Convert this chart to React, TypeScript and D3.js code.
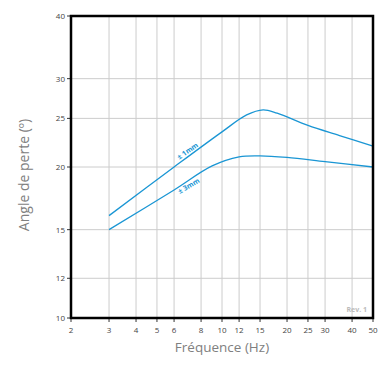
import React from "react";
import * as d3 from "d3";

const xTicks = [2, 3, 4, 5, 6, 8, 10, 12, 15, 20, 25, 30, 40, 50];
const yTicks = [10, 12, 15, 20, 25, 30, 40];
const freq1 = [3, 6, 10, 13, 15.5, 18, 25, 35, 50];
const loss1mm = [16, 20, 23.5, 25.4, 26.0, 25.6, 24.2, 23.1, 22.0];
const freq3 = [3, 6, 9, 12, 15, 20, 30, 50];
const loss3mm = [15, 18.0, 20.1, 20.95, 21.05, 20.9, 20.5, 20.0];

const W = 386, H = 371;
const L = 71, R = 373, T = 16, B = 318;

export default function App() {
  const x = d3.scaleLog().domain([2, 50]).range([L, R]);
  const y = d3.scaleLog().domain([10, 40]).range([B, T]);
  const line = d3.line<[number, number]>()
    .x(d => x(d[0])).y(d => y(d[1])).curve(d3.curveCatmullRom.alpha(0.5));
  const s1 = freq1.map((f, i) => [f, loss1mm[i]] as [number, number]);
  const s3 = freq3.map((f, i) => [f, loss3mm[i]] as [number, number]);
  const font = "'Open Sans', 'Noto Sans', sans-serif";
  const blue = "#1a96d4";
  return (
    <svg width={W} height={H} style={{ position: "absolute", left: 0, top: 0 }} fontFamily={font}>
      <rect width={W} height={H} fill="#fff" />
      {xTicks.slice(1, -1).map(t => (
        <line key={"gx" + t} x1={x(t)} x2={x(t)} y1={T} y2={B} stroke="#cccccc" strokeWidth={1} />
      ))}
      {yTicks.slice(1, -1).map(t => (
        <line key={"gy" + t} x1={L} x2={R} y1={y(t)} y2={y(t)} stroke="#cccccc" strokeWidth={1} />
      ))}
      {xTicks.map(t => (
        <g key={"tx" + t}>
          <line x1={x(t)} x2={x(t)} y1={B} y2={B + 4} stroke="#333" strokeWidth={1} />
          <text x={x(t)} y={B + 15} textAnchor="middle" fontSize={8} fill="#444">{t}</text>
        </g>
      ))}
      {yTicks.map(t => (
        <g key={"ty" + t}>
          <line x1={L - 4} x2={L} y1={y(t)} y2={y(t)} stroke="#333" strokeWidth={1} />
          <text x={L - 6} y={y(t) + 3} textAnchor="end" fontSize={8} fill="#444">{t}</text>
        </g>
      ))}
      <path d={line(s1) || ""} fill="none" stroke={blue} strokeWidth={1.3} />
      <path d={line(s3) || ""} fill="none" stroke={blue} strokeWidth={1.3} />
      <text x={0} y={0} transform={`translate(189,153) rotate(-35)`} textAnchor="middle" fontSize={7} fontWeight="bold" fill={blue}>± 1mm</text>
      <text x={0} y={0} transform={`translate(190,188) rotate(-30)`} textAnchor="middle" fontSize={7} fontWeight="bold" fill={blue}>± 3mm</text>
      <rect x={L} y={T} width={R - L} height={B - T} fill="none" stroke="#000" strokeWidth={2.5} />
      <text x={R - 6} y={B - 6} textAnchor="end" fontSize={7} fontWeight="bold" fill="#bbb">Rev. 1</text>
      <text x={(L + R) / 2} y={352} textAnchor="middle" fontSize={13.5} fill="#808080">Fréquence (Hz)</text>
      <text transform={`translate(29,${(T + B) / 2 + 8}) rotate(-90)`} textAnchor="middle" fontSize={14} fill="#808080">Angle de perte (º)</text>
    </svg>
  );
}
